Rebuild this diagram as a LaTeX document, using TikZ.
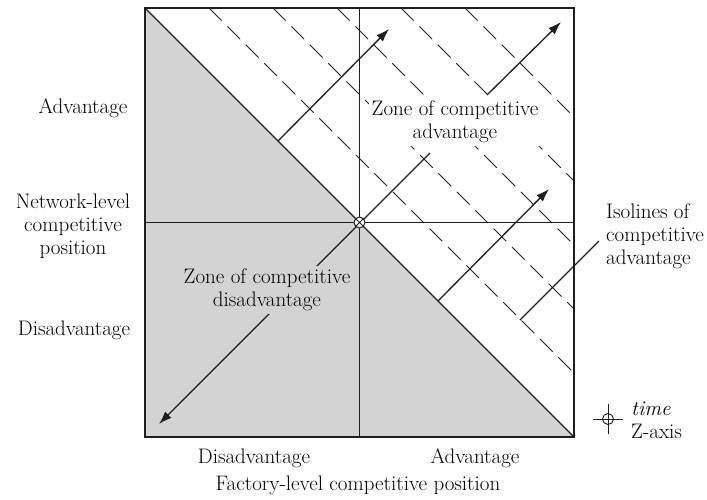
\documentclass[tikz,border=0pt]{standalone}
\usepackage{xcolor}
\definecolor{inkLine}  {HTML}{1E1E1E}
\definecolor{loseBack} {HTML}{D3D3D3}
\usetikzlibrary{arrows.meta, positioning, calc}
\tikzset{
    frame/.style={draw=inkLine, line width=1.3pt},
    axis/.style={draw=inkLine, line width=0.9pt},
    split/.style={draw=inkLine, line width=1.2pt},
    isoline/.style={draw=inkLine, line width=0.9pt, dash pattern=on 18pt off 8pt},
    move/.style={-{Latex[length=13pt, width=9pt]}, draw=inkLine, line width=1.3pt},
    pointer/.style={-, draw=inkLine, line width=1.2pt},
    lbl/.style={font=\fontsize{21}{23}\selectfont, text=black, align=center, inner sep=2pt},
    zone/.style={lbl, fill=white, inner sep=3pt},
    losezone/.style={lbl, fill=loseBack, inner sep=3pt},
    origin/.style={circle, draw=inkLine, fill=white, line width=1pt, minimum size=11pt, inner sep=0pt,
                   path picture={\draw[inkLine, line width=0.9pt]
                       (path picture bounding box.north west) -- (path picture bounding box.south east)
                       (path picture bounding box.north east) -- (path picture bounding box.south west);}},
    zmark/.style={circle, draw=inkLine, line width=0.9pt, minimum size=11pt, inner sep=0pt},
}

\begin{document}
\begin{tikzpicture}[x=1pt, y=-1pt]
    \useasboundingbox (0,0) rectangle (707,499);
    % corners of the square
    \coordinate (tl) at (145,8);
    \coordinate (tr) at (574,8);
    \coordinate (bl) at (145,437);
    \coordinate (br) at (574,437);
    \coordinate (o)  at (359.5,222.5);
    % disadvantage half
    \fill[loseBack] (tl) -- (br) -- (bl) -- cycle;
    % isolines of competitive advantage
    \foreach \d in {64,128,192,256,320}
        \draw[isoline] (145+\d,8) -- (574,437-\d);
    % axes and the break-even diagonal
    \draw[axis] (tl -| o) -- (bl -| o);
    \draw[axis] (tl |- o) -- (tr |- o);
    \draw[split] (tl) -- (br);
    % movements
    \coordinate (a1) at (278,141);  \coordinate (a1t) at (389,29);
    \coordinate (a2) at (487,95);   \coordinate (a2t) at (561,22);
    \coordinate (a3) at (438,301);  \coordinate (a3t) at (549,189);
    \coordinate (up) at (430,153);  \coordinate (down) at (159,424);
    \draw[move] (a1) -- (a1t);
    \draw[move] (a2) -- (a2t);
    \draw[move] (a3) -- (a3t);
    \draw[move] (up) -- (down);
    % zones
    \node[zone] (adv) at (455,122) {Zone of competitive\\advantage};
    \node[losezone] (dis) at (267,290) {Zone of competitive\\disadvantage};
    \node[origin] (zero) at (o) {};
    \draw[frame] (tl) rectangle (br);
    % isolines label
    \node[lbl, align=left, anchor=west] (iso) at (604,236) {Isolines of\\competitive\\advantage};
    \coordinate (isoA) at (520,320);
    \coordinate (isoB) at (599,241);
    \draw[pointer] (isoA) -- (isoB);
    % axis labels
    \node[lbl] (yhi) at (83,108) {Advantage};
    \node[lbl] (ymid) at (73,226) {Network-level\\competitive\\position};
    \node[lbl] (ylo) at (74,330) {Disadvantage};
    \node[lbl] (xlo) at (254,458) {Disadvantage};
    \node[lbl] (xhi) at (475,458) {Advantage};
    \node[lbl] (xmid) at (358,485) {Factory-level competitive position};
    % time axis legend
    \node[zmark] (zsym) at (608,419) {};
    \draw[axis] ([xshift=-15pt]zsym.center) -- ([xshift=15pt]zsym.center);
    \draw[axis] ([yshift=-15pt]zsym.center) -- ([yshift=15pt]zsym.center);
    \node[lbl, align=left, anchor=west] (zlbl) at (629,420) {\textit{time}\\Z-axis};
\end{tikzpicture}
\end{document}
